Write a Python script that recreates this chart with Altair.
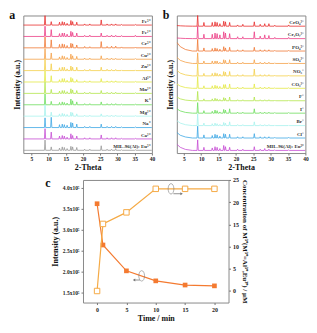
import altair as alt
import pandas as pd

FONT = "Liberation Serif"

# ---------------- XRD data (panel a and b) ----------------
peak_pos = [9.0, 10.8, 13.2, 14.0, 14.6, 15.4, 16.5, 17.0, 18.2, 20.5, 22.0, 25.3, 27.0, 28.3, 29.5, 31.2, 35.2]

a_names = ["Fe³⁺", "Fe²⁺", "Cr³⁺", "Cu²⁺", "Zn²⁺", "Al³⁺", "Mn²⁺", "K⁺", "Mg²⁺", "Na⁺", "Ca²⁺", "MIL-96(Al): Eu³⁺"]
a_colors = ["#e8302e", "#ec3f86", "#f07a36", "#f5a24a", "#f4cf4a", "#e4ea48", "#b4e64c", "#6ede5e", "#a8f2ee", "#40a8e4", "#c64ed4", "#9a9a9a"]
a_heights = [
    [0.85, 0.30, 0.25, 0.30, 0.25, 0.15, 0.40, 0.30, 0.25, 0.10, 0.10, 0.45, 0.10, 0.10, 0.10, 0.05, 0.05],
    [0.90, 0.60, 0.25, 0.30, 0.30, 0.20, 0.45, 0.35, 0.30, 0.10, 0.12, 0.30, 0.10, 0.12, 0.10, 0.08, 0.10],
    [0.95, 0.70, 0.30, 0.35, 0.30, 0.20, 0.40, 0.35, 0.25, 0.12, 0.10, 0.55, 0.12, 0.15, 0.15, 0.08, 0.06],
    [0.95, 0.55, 0.20, 0.30, 0.25, 0.15, 0.45, 0.30, 0.25, 0.10, 0.10, 0.30, 0.10, 0.10, 0.08, 0.06, 0.06],
    [1.00, 0.60, 0.25, 0.30, 0.30, 0.15, 0.40, 0.30, 0.30, 0.10, 0.12, 0.30, 0.12, 0.10, 0.10, 0.06, 0.06],
    [1.00, 0.55, 0.20, 0.30, 0.30, 0.15, 0.40, 0.30, 0.20, 0.10, 0.10, 0.30, 0.10, 0.10, 0.10, 0.05, 0.05],
    [1.00, 0.35, 0.20, 0.25, 0.25, 0.15, 0.40, 0.30, 0.25, 0.10, 0.10, 0.25, 0.10, 0.10, 0.10, 0.05, 0.05],
    [0.95, 0.30, 0.20, 0.25, 0.20, 0.15, 0.50, 0.35, 0.25, 0.10, 0.10, 0.25, 0.10, 0.10, 0.10, 0.05, 0.05],
    [1.00, 0.35, 0.20, 0.25, 0.20, 0.15, 0.35, 0.30, 0.20, 0.08, 0.08, 0.20, 0.08, 0.08, 0.08, 0.05, 0.05],
    [0.85, 0.90, 0.25, 0.30, 0.25, 0.20, 0.45, 0.40, 0.30, 0.10, 0.10, 0.30, 0.10, 0.10, 0.10, 0.05, 0.05],
    [0.90, 0.60, 0.25, 0.30, 0.25, 0.15, 0.45, 0.30, 0.25, 0.10, 0.10, 0.35, 0.10, 0.10, 0.10, 0.05, 0.05],
    [0.90, 0.30, 0.20, 0.30, 0.25, 0.15, 0.35, 0.30, 0.25, 0.10, 0.10, 0.40, 0.10, 0.10, 0.15, 0.05, 0.05],
]

b_names = ["CrO₄²⁻", "Cr₂O₇²⁻", "PO₄³⁻", "SO₄²⁻", "NO₃⁻", "CO₃²⁻", "F⁻", "I⁻", "Br⁻", "Cl⁻", "MIL-96(Al): Eu³⁺ "]
b_colors = ["#e8302e", "#ec3f86", "#f07a36", "#f5a24a", "#f4d84a", "#c8e84a", "#78de52", "#4ed890", "#a8f2ee", "#40a8e4", "#c64ed4"]
b_heights = [
    [0.90, 0.30, 0.30, 0.35, 0.30, 0.20, 0.40, 0.35, 0.30, 0.10, 0.15, 0.35, 0.15, 0.20, 0.20, 0.08, 0.10],
    [1.00, 0.35, 0.35, 0.45, 0.40, 0.30, 0.55, 0.45, 0.40, 0.15, 0.15, 0.55, 0.20, 0.30, 0.25, 0.10, 0.10],
    [0.95, 0.25, 0.20, 0.25, 0.20, 0.15, 0.35, 0.25, 0.30, 0.10, 0.10, 0.30, 0.10, 0.10, 0.10, 0.05, 0.05],
    [0.85, 0.20, 0.20, 0.20, 0.20, 0.10, 0.30, 0.25, 0.30, 0.10, 0.10, 0.30, 0.10, 0.10, 0.10, 0.05, 0.05],
    [1.00, 0.20, 0.20, 0.25, 0.20, 0.15, 0.35, 0.30, 0.35, 0.10, 0.10, 0.55, 0.10, 0.10, 0.10, 0.05, 0.05],
    [0.95, 0.20, 0.20, 0.25, 0.20, 0.15, 0.30, 0.30, 0.35, 0.10, 0.10, 0.35, 0.10, 0.10, 0.10, 0.05, 0.05],
    [0.75, 0.15, 0.15, 0.20, 0.15, 0.10, 0.25, 0.20, 0.30, 0.08, 0.08, 0.30, 0.08, 0.08, 0.08, 0.05, 0.05],
    [0.85, 0.20, 0.15, 0.25, 0.20, 0.10, 0.30, 0.25, 0.35, 0.08, 0.08, 0.35, 0.08, 0.08, 0.08, 0.05, 0.05],
    [0.95, 0.20, 0.15, 0.20, 0.15, 0.10, 0.25, 0.20, 0.30, 0.08, 0.08, 0.30, 0.08, 0.08, 0.08, 0.05, 0.05],
    [0.95, 0.25, 0.20, 0.30, 0.25, 0.15, 0.35, 0.30, 0.30, 0.10, 0.10, 0.35, 0.10, 0.10, 0.10, 0.05, 0.05],
    [0.85, 0.25, 0.20, 0.30, 0.25, 0.15, 0.40, 0.30, 0.25, 0.10, 0.10, 0.30, 0.10, 0.15, 0.10, 0.05, 0.05],
]
# low-angle background of panel b traces
bg_x = [3.0, 4.0, 5.5, 7.5]
b_bg = [
    [0.05, 0.03, 0.01, 0.0],
    [0.05, 0.03, 0.01, 0.0],
    [0.70, 0.35, 0.12, 0.0],
    [0.50, 0.25, 0.10, 0.0],
    [0.45, 0.22, 0.08, 0.0],
    [0.35, 0.18, 0.06, 0.0],
    [0.30, 0.15, 0.05, 0.0],
    [0.35, 0.18, 0.06, 0.0],
    [0.40, 0.20, 0.07, 0.0],
    [0.45, 0.22, 0.08, 0.0],
    [0.50, 0.25, 0.08, 0.0],
]

# ---------------- Panel c data ----------------
time_min = [0, 1, 5, 10, 15, 20]
intensity = [3.62e5, 2.63e5, 2.01e5, 1.77e5, 1.67e5, 1.65e5]
concentration = [0.0, 15.1, 17.7, 23.0, 23.0, 23.0]

xrd_ticks = [5, 10, 15, 20, 25, 30, 35, 40]
time_ticks = [0, 5, 10, 15, 20]
int_ticks = [1.5e5, 2.0e5, 2.5e5, 3.0e5, 3.5e5, 4.0e5]
conc_ticks = [0, 5, 10, 15, 20, 25]

LAB = "#222222"


def build_xrd(names, heights, bgs, x_start):
    rows = []
    n = len(names)
    w = 0.18
    for i, (name, hs) in enumerate(zip(names, heights)):
        off = n - 1 - i
        if bgs is not None:
            for bx, bv in zip(bg_x, bgs[i]):
                rows.append({"series": name, "x": bx, "y": off + bv})
        else:
            rows.append({"series": name, "x": x_start, "y": off})
        for p, h in zip(peak_pos, hs):
            rows.append({"series": name, "x": p - w, "y": off})
            rows.append({"series": name, "x": p, "y": off + h})
            rows.append({"series": name, "x": p + w, "y": off})
        rows.append({"series": name, "x": 40, "y": off})
    lab = pd.DataFrame({"series": names, "lx": [39.6] * n, "ly": [n - 1 - i + 0.12 for i in range(n)]})
    return pd.DataFrame(rows), lab


def xrd_panel(names, colors, heights, bgs, xdom, ydom, letter):
    df, lab = build_xrd(names, heights, bgs, xdom[0])
    xsc = alt.Scale(domain=xdom, nice=False, zero=False)
    ysc = alt.Scale(domain=ydom, nice=False, zero=False)
    xaxis = alt.Axis(
        values=xrd_ticks, title="2-Theta", grid=False, domain=False,
        labelFontSize=5.5, labelFont=FONT, labelFontWeight="bold", labelPadding=1,
        labelOverlap=False, labelFlush=False,
        tickSize=2, tickColor="#777", titleFont=FONT, titleFontSize=8,
        titleFontWeight="bold", titlePadding=2, labelColor=LAB, titleColor="#111")
    yaxis = alt.Axis(
        title="Intensity (a.u.)", labels=False, ticks=False, domain=False, grid=False,
        titleFont=FONT, titleFontSize=8, titleFontWeight="bold", titlePadding=2,
        titleColor="#111")
    lines = alt.Chart(df).mark_line(strokeWidth=0.8, clip=True).encode(
        x=alt.X("x:Q", scale=xsc, axis=xaxis),
        y=alt.Y("y:Q", scale=ysc, axis=yaxis),
        color=alt.Color("series:N", scale=alt.Scale(domain=names, range=colors), legend=None),
        detail="series:N",
    )
    labels = alt.Chart(lab).mark_text(
        align="right", baseline="bottom", font=FONT, fontSize=5, fontWeight="bold", color="#333"
    ).encode(x=alt.X("lx:Q", scale=xsc, axis=xaxis), y=alt.Y("ly:Q", scale=ysc, axis=yaxis),
             text="series:N")
    let = alt.Chart(pd.DataFrame({"t": [letter]})).mark_text(
        align="left", baseline="top", font=FONT, fontSize=12, fontWeight="bold", color="#111"
    ).encode(x=alt.value(-14), y=alt.value(-5), text="t:N")
    return alt.layer(lines, labels, let).properties(width=129, height=138)


pa = xrd_panel(a_names, a_colors, a_heights, None, [2.7, 40], [-0.24, 11.84], "a")
pb = xrd_panel(b_names, b_colors, b_heights, b_bg, [3.0, 40], [-0.21, 10.86], "b")

# ---------------- Panel c ----------------
cdf = pd.DataFrame({"t": time_min, "I": intensity, "C": concentration})
xsc_c = alt.Scale(domain=[-2.4, 22.4], nice=False, zero=False)
xax = alt.Axis(values=time_ticks, title="Time / min", grid=False, domain=False,
               labelFont=FONT, labelFontSize=6, labelFontWeight="bold", tickSize=2,
               labelOverlap=False, labelFlush=False,
               tickColor="#777", titleFont=FONT, titleFontSize=8, titleFontWeight="bold",
               titlePadding=2, labelColor=LAB, titleColor="#111")
isc = alt.Scale(domain=[1.25e5, 4.19e5], nice=False, zero=False)
csc = alt.Scale(domain=[-2.6, 25], nice=False, zero=False)
C_I = "#f47a30"
C_C = "#f5aa45"

left_ax = alt.Axis(values=int_ticks,
                   labelExpr="format(datum.value/100000, '.1f') + 'x10⁵'",
                   labelOverlap=False, labelFlush=False,
                   title="Intensity (a.u.)", grid=False, domain=False, labelFont=FONT,
                   labelFontSize=5.5, labelFontWeight="bold", tickSize=2, tickColor="#777",
                   titleFont=FONT, titleFontSize=8, titleFontWeight="bold", titlePadding=3,
                   labelColor=LAB, titleColor="#111")
right_ax = alt.Axis(values=conc_ticks, orient="right",
                    labelOverlap=False, labelFlush=False,
                    title="Concentration of M³⁺(M³⁺=Al³⁺,Eu³⁺) / μM", grid=False, domain=False,
                    labelFont=FONT, labelFontSize=6, labelFontWeight="bold", tickSize=2,
                    tickColor="#777", titleFont=FONT, titleFontSize=7, titleFontWeight="bold",
                    titlePadding=3, labelColor=LAB, titleColor="#111")


def xi(field="t"):
    return alt.X(f"{field}:Q", scale=xsc_c, axis=xax)


def yi(field="I"):
    return alt.Y(f"{field}:Q", scale=isc, axis=left_ax)


def yc(field="C"):
    return alt.Y(f"{field}:Q", scale=csc, axis=right_ax)


baseI = alt.Chart(cdf).encode(x=xi(), y=yi())
lineI = baseI.mark_line(color=C_I, strokeWidth=1.2)
ptsI = baseI.mark_point(shape="square", filled=True, color=C_I, size=22, opacity=1)

ell_path = "M0,-1 A0.55,1 0 1,1 0,1 A0.55,1 0 1,1 0,-1 Z"
annI = pd.DataFrame({"t": [7.6], "I": [1.89e5]})
ellI = alt.Chart(annI).mark_point(shape=ell_path, size=110, color="#777", strokeWidth=0.8,
                                  filled=False).encode(x=xi(), y=yi())
arrI = pd.DataFrame({"t": [7.3], "t2": [6.3], "I": [1.79e5]})
arrIl = alt.Chart(arrI).mark_rule(color="#777", strokeWidth=0.8).encode(
    x=xi(), x2="t2:Q", y=yi())
arrIh = alt.Chart(arrI).mark_point(shape="triangle-left", size=8, filled=True, color="#777",
                                   opacity=1).encode(x=xi("t2"), y=yi())

baseC = alt.Chart(cdf).encode(x=xi(), y=yc())
lineC = baseC.mark_line(color=C_C, strokeWidth=1.2)
ptsC = baseC.mark_point(shape="square", filled=True, fill="white", stroke=C_C, strokeWidth=1,
                        size=30, opacity=1)
annC = pd.DataFrame({"t": [12.6], "C": [23.0]})
ellC = alt.Chart(annC).mark_point(shape=ell_path, size=110, color="#777", strokeWidth=0.8,
                                  filled=False).encode(x=xi(), y=yc())
arrC = pd.DataFrame({"t": [13.0], "t2": [14.4], "C": [21.9]})
arrCl = alt.Chart(arrC).mark_rule(color="#777", strokeWidth=0.8).encode(
    x=xi(), x2="t2:Q", y=yc())
arrCh = alt.Chart(arrC).mark_point(shape="triangle-right", size=8, filled=True, color="#777",
                                   opacity=1).encode(x=xi("t2"), y=yc())

letc = alt.Chart(pd.DataFrame({"t": ["c"]})).mark_text(
    align="left", baseline="top", font=FONT, fontSize=12, fontWeight="bold", color="#111"
).encode(x=alt.value(-38), y=alt.value(-2), text="t:N")

layerI = alt.layer(lineI, ptsI, ellI, arrIl, arrIh, letc)
layerC = alt.layer(lineC, ptsC, ellC, arrCl, arrCh)
pc = alt.layer(layerI, layerC).resolve_scale(y="independent").properties(width=146, height=123)

top = alt.hconcat(pa, pb, spacing=6)
chart = alt.vconcat(top, pc, spacing=4, center=True).configure_view(
    stroke="#8a8a8a", strokeWidth=1
).properties(background="white", padding=0)

chart.save("out.html", embed_options={"renderer": "svg", "actions": False})
